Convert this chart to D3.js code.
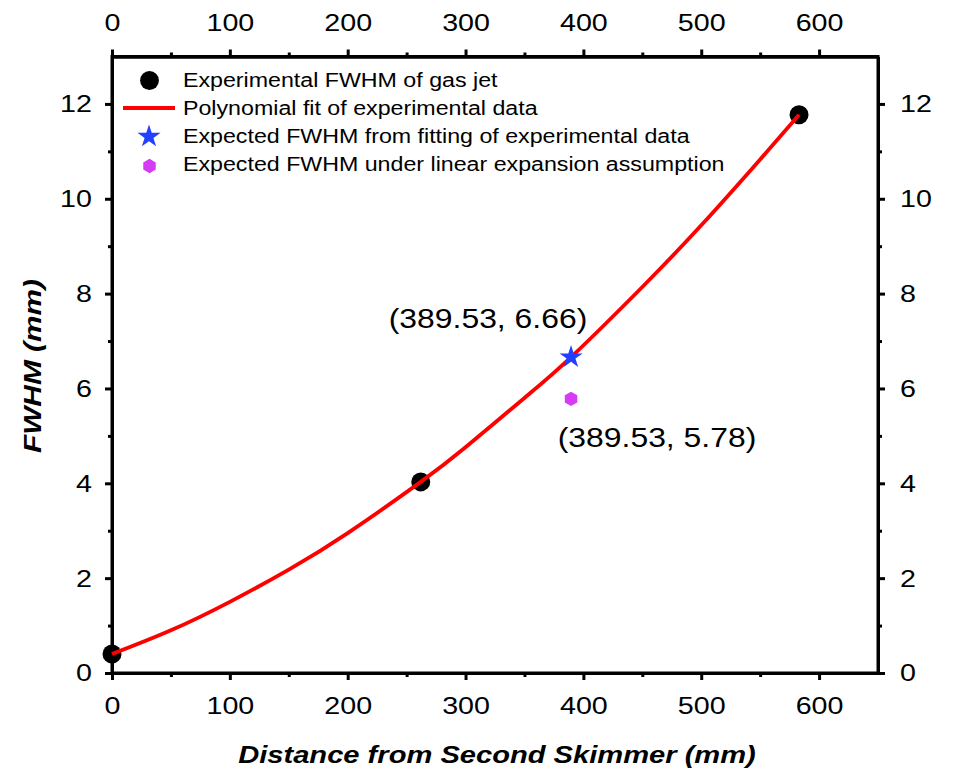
<!DOCTYPE html>
<html><head><meta charset="utf-8">
<script src="https://cdn.jsdelivr.net/npm/d3@7"></script>
<style>body{margin:0;background:#fff}svg{display:block;font-family:"Liberation Sans",Arial,sans-serif}</style>
</head><body><svg id="c" width="954" height="776"></svg>
<script>
// Data
const expX = [0, 262, 583];
const expY = [0.40, 4.03, 11.77];
const fitX = [0, 50, 100, 150, 200, 262, 300, 350, 389.53, 450, 500, 550, 583];
const fitY = [0.40, 0.90, 1.50, 2.18, 2.95, 4.03, 4.76, 5.80, 6.66, 8.14, 9.44, 10.83, 11.77];
const starPt = [389.53, 6.66];
const hexPt = [389.53, 5.78];
const xTicks = [0, 100, 200, 300, 400, 500, 600];
const yTicks = [0, 2, 4, 6, 8, 10, 12];
const legendLabels = ["Experimental FWHM of gas jet", "Polynomial fit of experimental data",
  "Expected FWHM from fitting of experimental data", "Expected FWHM under linear expansion assumption"];

const svg = d3.select("#c");
const L = 112, R = 878, T = 56.5, B = 673;
const x = d3.scaleLinear().domain([0, 650]).range([L, R]);
const y = d3.scaleLinear().domain([0, 13]).range([B, T]);
const starCol = "#2140ff", hexCol = "#d43cf5";
const FONT = "Liberation Sans, Arial, sans-serif";
const SX = 1.17;

const minorX = d3.range(50, 650, 100);
const minorY = d3.range(1, 13, 2);

function addAxis(gen, transform, padding) {
  const g = svg.append("g").attr("transform", transform)
    .call(gen.tickSize(7).tickPadding(padding).tickSizeOuter(0));
  g.selectAll(".tick text").each(function () {
    const t = d3.select(this);
    const tx = +t.attr("x") || 0;
    t.attr("x", 0).attr("transform", `translate(${tx},0) scale(${SX},1)`)
      .attr("font-size", 24.5).attr("font-family", FONT).attr("fill", "#000");
  });
  return g;
}
addAxis(d3.axisBottom(x).tickValues(xTicks), `translate(0,${B})`, 17);
addAxis(d3.axisTop(x).tickValues(xTicks), `translate(0,${T})`, 19);
addAxis(d3.axisLeft(y).tickValues(yTicks), `translate(${L},0)`, 13);
addAxis(d3.axisRight(y).tickValues(yTicks), `translate(${R},0)`, 15);
svg.append("g").attr("transform", `translate(0,${B})`)
  .call(d3.axisBottom(x).tickValues(minorX).tickSize(4).tickFormat("").tickSizeOuter(0));
svg.append("g").attr("transform", `translate(0,${T})`)
  .call(d3.axisTop(x).tickValues(minorX).tickSize(4).tickFormat("").tickSizeOuter(0));
svg.append("g").attr("transform", `translate(${L},0)`)
  .call(d3.axisLeft(y).tickValues(minorY).tickSize(4).tickFormat("").tickSizeOuter(0));
svg.append("g").attr("transform", `translate(${R},0)`)
  .call(d3.axisRight(y).tickValues(minorY).tickSize(4).tickFormat("").tickSizeOuter(0));
svg.selectAll(".domain").attr("stroke", "#000").attr("stroke-width", 3);
svg.selectAll(".tick line").attr("stroke", "#000").attr("stroke-width", 3);
svg.append("rect").attr("x", L).attr("y", T).attr("width", R - L).attr("height", B - T)
  .attr("fill", "none").attr("stroke", "#000").attr("stroke-width", 3);

// fit curve
const line = d3.line().x((d, i) => x(fitX[i])).y((d, i) => y(fitY[i])).curve(d3.curveNatural);

// experimental points
svg.selectAll("circle.exp").data(expX).enter().append("circle")
  .attr("cx", d => x(d)).attr("cy", (d, i) => y(expY[i])).attr("r", 9.5).attr("fill", "#000");
svg.append("path").datum(fitY).attr("d", line).attr("fill", "none")
  .attr("stroke", "#ff0000").attr("stroke-width", 3.8);

const star = d3.symbol().type(d3.symbolStar).size(165);
const hex = (cx, cy, r) => d3.range(6).map(k => {
  const a = Math.PI / 6 + k * Math.PI / 3; return [cx + r * Math.cos(a), cy + r * Math.sin(a)];
});
svg.append("path").attr("d", star()).attr("fill", starCol)
  .attr("transform", `translate(${x(starPt[0])},${y(starPt[1])})`);
svg.append("polygon").attr("points", hex(x(hexPt[0]), y(hexPt[1]), 7.2).join(" ")).attr("fill", hexCol);

function stext(px, py, size, s, str, opts = {}) {
  const t = svg.append("text").attr("transform", `translate(${px},${py})${opts.rot ? " rotate(-90)" : ""} scale(${s},1)`)
    .attr("text-anchor", opts.anchor || "middle").attr("font-size", size).attr("font-family", FONT)
    .attr("fill", "#000").text(str);
  if (opts.bold) t.attr("font-weight", "bold").attr("font-style", "italic");
  if (opts.dy) t.attr("dy", opts.dy);
  return t;
}

// annotations
stext(488, 328, 27.5, 1.16, `(${starPt[0]}, ${starPt[1]})`);
stext(657, 447, 27.5, 1.16, `(${hexPt[0]}, ${hexPt[1]})`);

// legend
const rows = [80.5, 108, 136.5, 164.5];
svg.append("circle").attr("cx", 149.5).attr("cy", rows[0]).attr("r", 9.4).attr("fill", "#000");
svg.append("line").attr("x1", 123).attr("x2", 175).attr("y1", rows[1]).attr("y2", rows[1])
  .attr("stroke", "#ff0000").attr("stroke-width", 4);
svg.append("path").attr("d", star()).attr("fill", starCol).attr("transform", `translate(149,${rows[2]})`);
svg.append("polygon").attr("points", hex(149.5, rows[3] + 1.5, 7.2).join(" ")).attr("fill", hexCol);
legendLabels.forEach((t, i) => {
  stext(183, rows[i], 19.5, 1.19, t, { anchor: "start", dy: "0.35em" });
});

// titles
stext(497, 763, 23.3, 1.25, "Distance from Second Skimmer (mm)", { bold: true });
stext(41, 366, 23.5, 1.27, "FWHM (mm)", { bold: true, rot: true });
</script></body></html>
